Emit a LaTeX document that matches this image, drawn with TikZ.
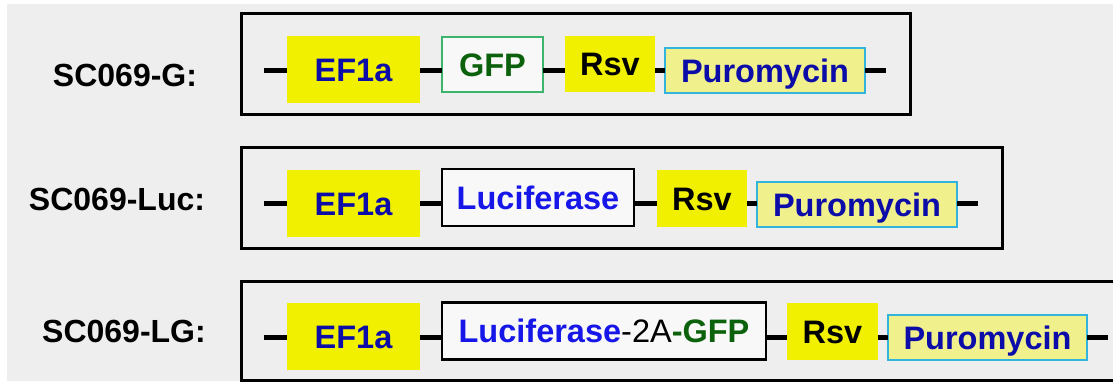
\documentclass[tikz,border=0pt]{standalone}
\usepackage{fontspec}
\setmainfont{Liberation Sans}
\definecolor{bgc}{RGB}{238,238,238}
\definecolor{yel}{RGB}{240,240,0}
\definecolor{dblue}{RGB}{12,12,168}
\definecolor{lblue}{RGB}{22,22,232}
\definecolor{dgreen}{RGB}{12,98,12}
\definecolor{gfpedge}{RGB}{60,180,110}
\definecolor{pfill}{RGB}{240,240,140}
\definecolor{pedge}{RGB}{50,180,220}
\tikzset{
  lbl/.style={font=\fontsize{32}{36}\selectfont\bfseries, text height=23pt, text depth=0pt, inner sep=0pt},
  base/.style={font=\fontsize{32.5}{36}\selectfont\bfseries, text height=23pt, text depth=0pt, inner sep=0pt, outer sep=0pt, anchor=center},
  promoter/.style={base, fill=yel},
  ef/.style={promoter, minimum width=133pt, minimum height=67pt, text=dblue},
  rsv/.style={promoter, minimum width=90pt, minimum height=56pt, text=black},
  puro/.style={base, fill=pfill, draw=pedge, line width=1.5pt, minimum width=200pt, minimum height=45pt, text=dblue},
  gfpbox/.style={base, fill=white!60!bgc, draw=gfpedge, line width=1.5pt, minimum width=101pt, minimum height=55pt, text=dgreen},
  lucbox/.style={base, fill=white!60!bgc, draw=black, line width=2.5pt, minimum height=57pt},
  frame/.style={draw=black, line width=3pt},
  bb/.style={line width=5pt, draw=black}
}
\begin{document}
\begin{tikzpicture}[x=1pt,y=-1pt]
\clip (0,0) rectangle (1113,381);
\fill[white] (0,0) rectangle (1113,381);
\fill[bgc] (7,4) rectangle (1113,381);
% frames
\draw[frame] (241,13) rectangle (910,114);
\draw[frame] (241,147) rectangle (1002,248);
\draw[frame] (241,281) rectangle (1125,380);
% labels
\node[lbl] (l1) at (125,75) {SC069-G:};
\node[lbl] (l2) at (117,199) {SC069-Luc:};
\node[lbl] (l3) at (124,331) {SC069-LG:};
% row 1
\coordinate (s1) at (264,70);
\coordinate (e1) at (886,70);
\node[ef] (ef1) at (353.5,69.5) {EF1a};
\node[gfpbox] (g1) at (492.5,64.5) {GFP};
\node[rsv] (r1) at (610,64) {Rsv};
\node[puro] (p1) at (765,70.5) {Puromycin};
\draw[bb] (s1) -- (s1 -| ef1.west);
\draw[bb] (ef1.east |- s1) -- (g1.west |- s1);
\draw[bb] (g1.east |- s1) -- (r1.west |- s1);
\draw[bb] (r1.east |- s1) -- (p1.west |- s1);
\draw[bb] (p1.east |- s1) -- (e1);
% row 2
\coordinate (s2) at (264,203);
\coordinate (e2) at (978,203);
\node[ef] (ef2) at (353.5,203.5) {EF1a};
\node[lucbox, minimum width=192pt, text=lblue] (c2) at (538,197.5) {Luciferase};
\node[rsv, minimum height=57pt] (r2) at (702,198.5) {Rsv};
\node[puro] (p2) at (857,204.5) {Puromycin};
\draw[bb] (s2) -- (s2 -| ef2.west);
\draw[bb] (ef2.east |- s2) -- (c2.west |- s2);
\draw[bb] (c2.east |- s2) -- (r2.west |- s2);
\draw[bb] (r2.east |- s2) -- (p2.west |- s2);
\draw[bb] (p2.east |- s2) -- (e2);
% row 3
\coordinate (s3) at (264,337);
\coordinate (e3) at (1108,337);
\node[ef] (ef3) at (353.5,336.5) {EF1a};
\node[lucbox, minimum width=324pt] (c3) at (604,331) {\textcolor{lblue}{Luciferase}\textcolor{black}{\mdseries -2A}\textcolor{dgreen}{-GFP}};
\node[rsv, minimum width=91pt, minimum height=57pt] (r3) at (832.5,331.5) {Rsv};
\node[puro, minimum width=199pt] (p3) at (987.5,337.5) {Puromycin};
\draw[bb] (s3) -- (s3 -| ef3.west);
\draw[bb] (ef3.east |- s3) -- (c3.west |- s3);
\draw[bb] (c3.east |- s3) -- (r3.west |- s3);
\draw[bb] (r3.east |- s3) -- (p3.west |- s3);
\draw[bb] (p3.east |- s3) -- (e3);
\end{tikzpicture}
\end{document}
